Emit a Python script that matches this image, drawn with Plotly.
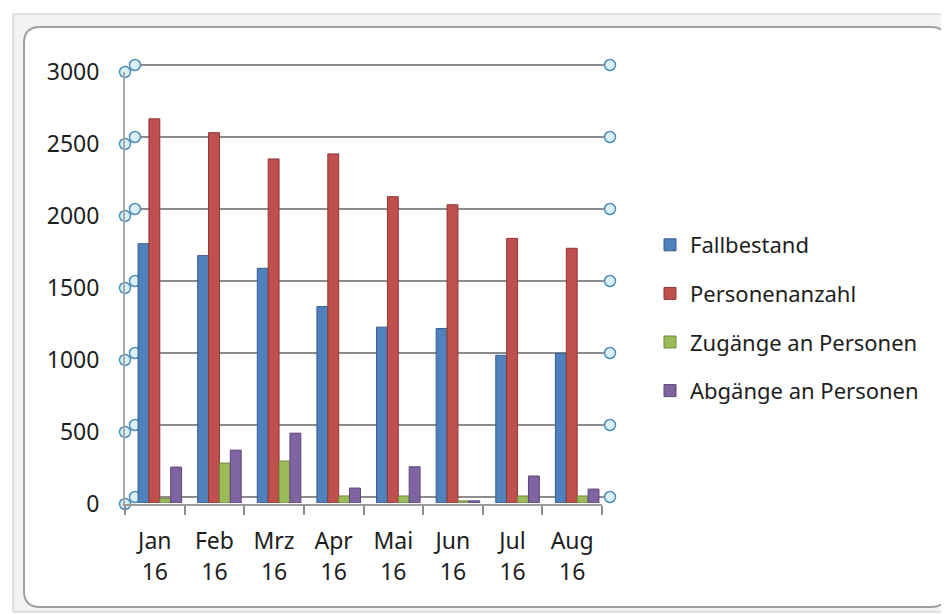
import plotly.graph_objects as go

# ---- data ----
months = ["Jan", "Feb", "Mrz", "Apr", "Mai", "Jun", "Jul", "Aug"]
years = ["16", "16", "16", "16", "16", "16", "16", "16"]
fallbestand = [1805, 1722, 1634, 1368, 1224, 1215, 1028, 1042]
personenanzahl = [2674, 2578, 2395, 2430, 2132, 2076, 1842, 1773]
zugaenge = [30, 278, 292, 49, 49, 15, 49, 49]
abgaenge = [250, 368, 486, 104, 252, 15, 188, 97]
y_ticks = [0, 500, 1000, 1500, 2000, 2500, 3000]

series = [
    ("Fallbestand", fallbestand, "#4F81BD", "#385D8A"),
    ("Personenanzahl", personenanzahl, "#C0504D", "#8C3836"),
    ("Zugänge an Personen", zugaenge, "#9BBB59", "#71893F"),
    ("Abgänge an Personen", abgaenge, "#8064A2", "#5C4776"),
]

# page has an 8px body margin; figure fills the rest of the 949x614 window
OFF = 8
W, H = 949 - OFF, 614 - OFF
FONT = "Noto Sans"
TXT = "#1e1e1e"


def px(x):
    return (x - OFF) / W


def py(y):
    return 1 - (y - OFF) / H


fig = go.Figure()

for name, vals, col, dark in series:
    fig.add_trace(go.Bar(
        x=months, y=vals, name=name, xaxis="x2", yaxis="y2",
        marker=dict(color=col, line=dict(color=dark, width=1)),
        legendgroup=name,
    ))

handle = dict(size=11, color="#DDF0F8", line=dict(color="#4F8DB8", width=1.5))

fig.add_trace(go.Scatter(
    x=[0] * len(y_ticks) + [1] * len(y_ticks), y=y_ticks + y_ticks,
    mode="markers", marker=handle, showlegend=False, hoverinfo="skip",
    cliponaxis=False, xaxis="x", yaxis="y"))
fig.add_trace(go.Scatter(
    x=[0] * len(y_ticks), y=y_ticks,
    mode="markers", marker=handle, showlegend=False, hoverinfo="skip",
    cliponaxis=False, xaxis="x3", yaxis="y3"))
fig.add_trace(go.Scatter(
    x=[0.5], y=[0], mode="markers", marker=dict(opacity=0),
    showlegend=False, hoverinfo="skip", xaxis="x4", yaxis="y3"))

n = len(months)
tickpos = [i + 0.5 for i in range(n)]

# back wall: pad the range a little so the 0 and 3000 grid lines are drawn
pad = 10
back_px_per_unit = (497 - 65) / 3000

fig.update_layout(
    width=W, height=H,
    autosize=False,
    margin=dict(l=0, r=0, t=0, b=0, pad=0, autoexpand=False),
    paper_bgcolor="white",
    plot_bgcolor="rgba(0,0,0,0)",
    font=dict(family=FONT, size=23, color=TXT),
    barmode="group", bargap=0.27, bargroupgap=0,
    showlegend=True,
    legend=dict(x=px(650), y=py(318), xanchor="left", yanchor="middle",
                font=dict(size=22, family=FONT, color=TXT),
                tracegroupgap=17, bgcolor="rgba(0,0,0,0)"),
    xaxis=dict(domain=[px(135), px(610)], range=[0, 1], visible=False,
               anchor="y", automargin=False),
    yaxis=dict(domain=[py(497 + pad * back_px_per_unit),
                       py(65 - pad * back_px_per_unit)],
               range=[-pad, 3000 + pad], anchor="x",
               tickvals=y_ticks, showticklabels=False, showgrid=True,
               gridcolor="#8C8C8C", gridwidth=2, zeroline=False,
               showline=False, automargin=False),
    xaxis2=dict(domain=[px(130), px(607)], anchor="y2", type="category",
                visible=False, automargin=False),
    yaxis2=dict(domain=[py(503), py(72)], range=[0, 3000], anchor="x2",
                visible=False, automargin=False),
    xaxis3=dict(domain=[px(125), px(602)], anchor="y3", range=[0, n],
                tickvals=tickpos, ticktext=months, ticks="",
                showline=True, linecolor="#9A9A9A", linewidth=2,
                showgrid=False, zeroline=False, ticklabelstandoff=15,
                automargin=False,
                minor=dict(tick0=0, dtick=1, ticks="outside", ticklen=9,
                           tickcolor="#8C8C8C", tickwidth=2, showgrid=False)),
    yaxis3=dict(domain=[py(504), py(72)], range=[0, 3000], anchor="x3",
                tickvals=y_ticks, showgrid=False, zeroline=False,
                showline=True, linecolor="#AAAAAA", linewidth=2,
                ticks="", ticklabelstandoff=19, automargin=False),
    xaxis4=dict(domain=[px(125), px(602)], anchor="free", position=py(556),
                range=[0, n], tickvals=tickpos,
                ticktext=years, ticks="", showline=False, showgrid=False,
                zeroline=False, side="bottom", automargin=False),
)

fig.add_shape(type="rect", xref="paper", yref="paper",
              x0=px(13), x1=px(949), y0=py(612), y1=py(14),
              fillcolor="#F2F2F2", line=dict(color="#C8C8C8", width=1),
              layer="below")

x0, x1, y0, y1, r = 24, 947, 27, 607, 16
path = (f"M {px(x0 + r)},{py(y0)} L {px(x1 - r)},{py(y0)} "
        f"Q {px(x1)},{py(y0)} {px(x1)},{py(y0 + r)} "
        f"L {px(x1)},{py(y1 - r)} Q {px(x1)},{py(y1)} {px(x1 - r)},{py(y1)} "
        f"L {px(x0 + r)},{py(y1)} Q {px(x0)},{py(y1)} {px(x0)},{py(y1 - r)} "
        f"L {px(x0)},{py(y0 + r)} Q {px(x0)},{py(y0)} {px(x0 + r)},{py(y0)} Z")
fig.add_shape(type="path", xref="paper", yref="paper", path=path,
              fillcolor="white", line=dict(color="#A0A0A0", width=2),
              layer="below")

fig.write_html("out.html", config={"displayModeBar": False})
